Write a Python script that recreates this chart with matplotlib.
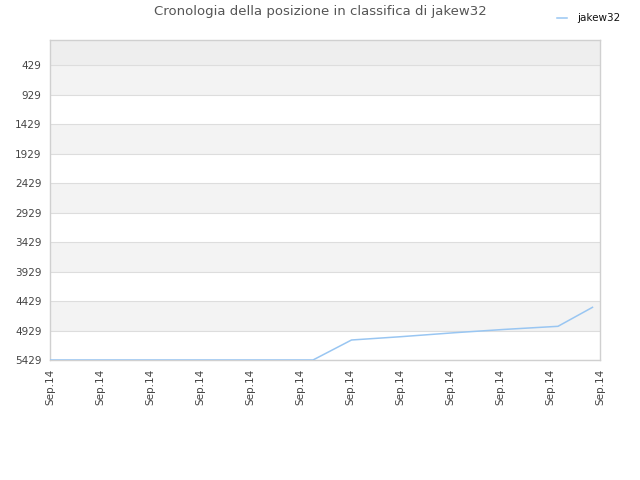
import matplotlib
matplotlib.use("Agg")
import matplotlib.pyplot as plt

# data
x_pos = [0, 5.26, 6.03, 7.0, 8.1, 9.1, 10.16, 10.85]
ranks = [5429, 5429, 5090, 5035, 4966, 4910, 4858, 4536]
x_tick_labels = ["Sep.14"] * 12
y_ticks = [429, 929, 1429, 1929, 2429, 2929, 3429, 3929, 4429, 4929, 5429]
series_name = "jakew32"
title = "Cronologia della posizione in classifica di jakew32"

fig = plt.figure(figsize=(6.4, 4.8), dpi=100)
ax = fig.add_axes([50/640, 1-360/480, 550/640, 320/480])

ymin_top = 5
ax.set_ylim(5429, ymin_top)
ax.set_xlim(0, 11)

# bands
ax.axhspan(ymin_top, 429, color="#eeeeee", zorder=0, lw=0)
for i in range(len(y_ticks) - 1):
    if i % 2 == 0:
        ax.axhspan(y_ticks[i], y_ticks[i+1], color="#f3f3f3", zorder=0, lw=0)

for yt in y_ticks:
    ax.axhline(yt, color="#dddddd", lw=0.8, zorder=1)

ax.plot(x_pos, ranks, color="#99c6f2", lw=1.1, zorder=3, label=series_name)

ax.set_yticks(y_ticks)
ax.set_yticklabels([str(v) for v in y_ticks], fontsize=7.5, color="#444444")
ax.set_xticks(range(12))
ax.set_xticklabels(x_tick_labels, rotation=90, fontsize=7.5, color="#444444")
ax.tick_params(length=0, pad=6)

for s in ax.spines.values():
    s.set_color("#d0d0d0")
    s.set_linewidth(1)

fig.text(320/640, 1-12/480, title, ha="center", va="center", fontsize=9.5, color="#555555")
leg = fig.legend(loc="upper right", bbox_to_anchor=(630/640, 1-4/480), frameon=False,
                 fontsize=7.5, handlelength=1.0, handletextpad=1.0, labelcolor="#111111")

fig.savefig("out.png", dpi=100)
